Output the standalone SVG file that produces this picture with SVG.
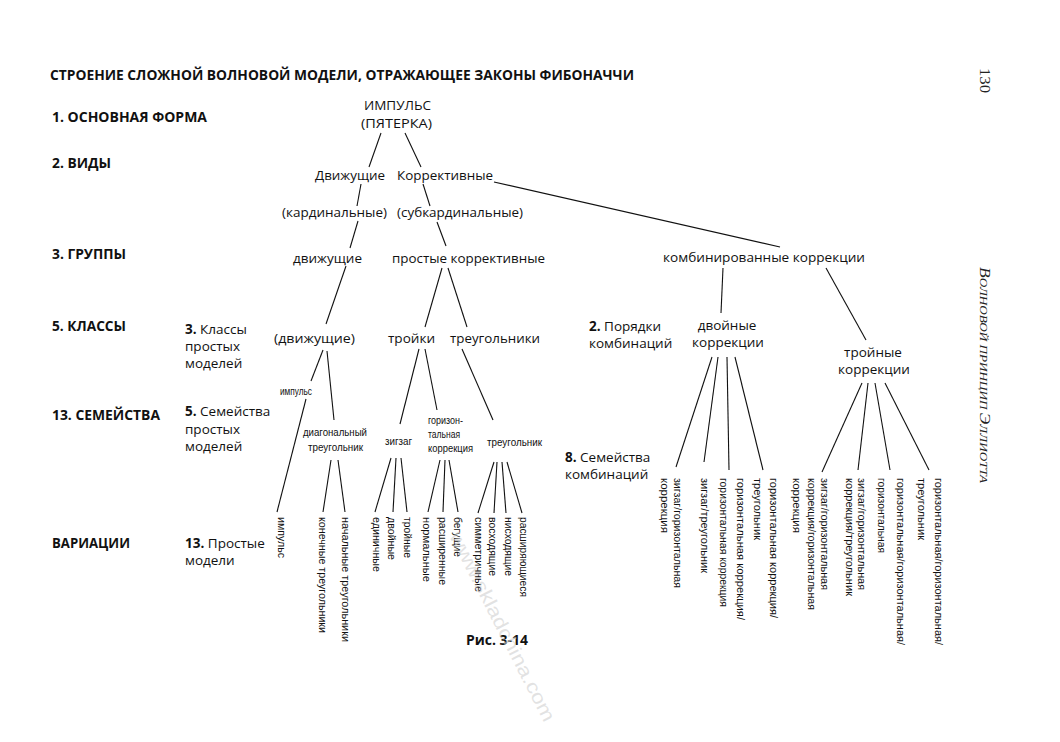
<svg xmlns="http://www.w3.org/2000/svg" width="1060" height="742" viewBox="0 0 1060 742">
<style>
.t{font-family:"Open Sans","Liberation Sans",sans-serif;font-size:13.5px;fill:#111}
.h{font-family:"Open Sans","Liberation Sans",sans-serif;font-size:13.5px;font-weight:bold;fill:#111}
.b{font-weight:bold}
.s{font-family:"Liberation Sans",sans-serif;font-size:11px;fill:#111}
.v{font-family:"Liberation Sans",sans-serif;font-size:11px;fill:#111}
.w{font-family:"Liberation Serif",serif;font-size:14px;fill:#222}
.c{text-anchor:middle}
#connectors line{stroke:#111;stroke-width:1.1;fill:none}
</style>
<rect width="1060" height="742" fill="#fff"/>

<g id="headers">
<text class="h" x="50" y="80" textLength="584" lengthAdjust="spacingAndGlyphs">СТРОЕНИЕ СЛОЖНОЙ ВОЛНОВОЙ МОДЕЛИ, ОТРАЖАЮЩЕЕ ЗАКОНЫ ФИБОНАЧЧИ</text>
<text class="h" x="52" y="122" textLength="155" lengthAdjust="spacingAndGlyphs">1. ОСНОВНАЯ ФОРМА</text>
<text class="h" x="52" y="168" textLength="59" lengthAdjust="spacingAndGlyphs">2. ВИДЫ</text>
<text class="h" x="52" y="259" textLength="74" lengthAdjust="spacingAndGlyphs">3. ГРУППЫ</text>
<text class="h" x="52" y="331" textLength="74" lengthAdjust="spacingAndGlyphs">5. КЛАССЫ</text>
<text class="h" x="52" y="420" textLength="108" lengthAdjust="spacingAndGlyphs">13. СЕМЕЙСТВА</text>
<text class="h" x="52" y="548" textLength="78" lengthAdjust="spacingAndGlyphs">ВАРИАЦИИ</text>
</g>

<g id="levels">
<text class="t" x="185" y="334"><tspan class="b">3.</tspan> Классы</text>
<text class="t" x="185" y="351">простых</text>
<text class="t" x="185" y="368">моделей</text>
<text class="t" x="185" y="416"><tspan class="b">5.</tspan> Семейства</text>
<text class="t" x="185" y="434">простых</text>
<text class="t" x="185" y="451">моделей</text>
<text class="t" x="185" y="548"><tspan class="b">13.</tspan> Простые</text>
<text class="t" x="185" y="565">модели</text>
<text class="t" x="589" y="331"><tspan class="b">2.</tspan> Порядки</text>
<text class="t" x="589" y="348">комбинаций</text>
<text class="t" x="565" y="462"><tspan class="b">8.</tspan> Семейства</text>
<text class="t" x="565" y="479">комбинаций</text>
</g>

<g id="connectors">
<line x1="381" y1="133" x2="369" y2="167"/>
<line x1="361" y1="184" x2="357" y2="206"/>
<line x1="358" y1="221" x2="350" y2="248"/>
<line x1="346" y1="266" x2="326" y2="324"/>
<line x1="405" y1="133" x2="421" y2="167"/>
<line x1="423" y1="184" x2="430" y2="206"/>
<line x1="437" y1="222" x2="446" y2="246"/>
<line x1="494" y1="182" x2="780" y2="247"/>
<line x1="442" y1="268" x2="425" y2="327"/>
<line x1="448" y1="268" x2="467" y2="327"/>
<line x1="723" y1="268" x2="721" y2="313"/>
<line x1="826" y1="268" x2="866" y2="340"/>
<line x1="323" y1="350" x2="311" y2="381"/>
<line x1="306" y1="399" x2="277" y2="512"/>
<line x1="327" y1="351" x2="334" y2="420"/>
<line x1="331" y1="460" x2="323" y2="512"/>
<line x1="338" y1="460" x2="345" y2="512"/>
<line x1="419" y1="349" x2="400" y2="424"/>
<line x1="425" y1="349" x2="437" y2="410"/>
<line x1="462" y1="349" x2="493" y2="420"/>
<line x1="391" y1="458" x2="375" y2="512"/>
<line x1="396" y1="458" x2="393" y2="512"/>
<line x1="401" y1="458" x2="407" y2="512"/>
<line x1="440" y1="460" x2="428" y2="512"/>
<line x1="445" y1="460" x2="443" y2="512"/>
<line x1="449" y1="460" x2="458" y2="512"/>
<line x1="494" y1="462" x2="478" y2="513"/>
<line x1="497" y1="462" x2="494" y2="513"/>
<line x1="502" y1="462" x2="506" y2="513"/>
<line x1="507" y1="462" x2="522" y2="513"/>
<line x1="712" y1="357" x2="676" y2="467"/>
<line x1="718" y1="357" x2="704" y2="462"/>
<line x1="727" y1="357" x2="729" y2="470"/>
<line x1="735" y1="357" x2="763" y2="470"/>
<line x1="862" y1="383" x2="822" y2="472"/>
<line x1="868" y1="383" x2="858" y2="470"/>
<line x1="875" y1="383" x2="890" y2="470"/>
<line x1="885" y1="383" x2="929" y2="470"/>
</g>

<g id="n-impulse"><text class="t" x="364" y="110" textLength="67" lengthAdjust="spacingAndGlyphs">ИМПУЛЬС</text><text class="t" x="361" y="128" textLength="71" lengthAdjust="spacingAndGlyphs">(ПЯТЕРКА)</text></g>
<g id="n-dvizh"><text class="t" x="315" y="180" textLength="70" lengthAdjust="spacingAndGlyphs">Движущие</text></g>
<g id="n-korr"><text class="t" x="397" y="180" textLength="96" lengthAdjust="spacingAndGlyphs">Коррективные</text></g>
<g id="n-kard"><text class="t" x="282" y="217" textLength="105" lengthAdjust="spacingAndGlyphs">(кардинальные)</text></g>
<g id="n-subkard"><text class="t" x="397" y="217" textLength="126" lengthAdjust="spacingAndGlyphs">(субкардинальные)</text></g>
<g id="n-dvizh-group"><text class="t" x="293" y="263" textLength="69" lengthAdjust="spacingAndGlyphs">движущие</text></g>
<g id="n-prost"><text class="t" x="392" y="263" textLength="153" lengthAdjust="spacingAndGlyphs">простые коррективные</text></g>
<g id="n-komb"><text class="t" x="663" y="262" textLength="202" lengthAdjust="spacingAndGlyphs">комбинированные коррекции</text></g>
<g id="n-dvizh-class"><text class="t" x="274" y="343" textLength="81" lengthAdjust="spacingAndGlyphs">(движущие)</text></g>
<g id="n-troiki"><text class="t" x="388" y="343" textLength="47" lengthAdjust="spacingAndGlyphs">тройки</text></g>
<g id="n-treug"><text class="t" x="450" y="343" textLength="90" lengthAdjust="spacingAndGlyphs">треугольники</text></g>
<g id="n-dvoin"><text class="t c" x="727" y="330">двойные</text><text class="t c" x="728" y="347">коррекции</text></g>
<g id="n-troin"><text class="t c" x="873" y="357">тройные</text><text class="t c" x="874" y="374">коррекции</text></g>

<g id="n-imp-small"><text class="s" x="280" y="395" textLength="32" lengthAdjust="spacingAndGlyphs">импульс</text></g>
<g id="n-diag"><text class="s" x="303" y="436" textLength="64" lengthAdjust="spacingAndGlyphs">диагональный</text><text class="s" x="308" y="451" textLength="55" lengthAdjust="spacingAndGlyphs">треугольник</text></g>
<g id="n-zigzag"><text class="s" x="385" y="445" textLength="27" lengthAdjust="spacingAndGlyphs">зигзаг</text></g>
<g id="n-horiz"><text class="s" x="428" y="424" textLength="35" lengthAdjust="spacingAndGlyphs">горизон-</text><text class="s" x="428" y="438" textLength="32" lengthAdjust="spacingAndGlyphs">тальная</text><text class="s" x="428" y="452" textLength="45" lengthAdjust="spacingAndGlyphs">коррекция</text></g>
<g id="n-treug-fam"><text class="s" x="487" y="446" textLength="55" lengthAdjust="spacingAndGlyphs">треугольник</text></g>

<g id="leaves-simple">
<text class="v" transform="translate(278,517) rotate(90)" textLength="41" lengthAdjust="spacingAndGlyphs">импульс</text>
<text class="v" transform="translate(319,517) rotate(90)" textLength="116" lengthAdjust="spacingAndGlyphs">конечные треугольники</text>
<text class="v" transform="translate(342,517) rotate(90)" textLength="125" lengthAdjust="spacingAndGlyphs">начальные треугольники</text>
<text class="v" transform="translate(373,517) rotate(90)" textLength="55" lengthAdjust="spacingAndGlyphs">единичные</text>
<text class="v" transform="translate(388,517) rotate(90)" textLength="43" lengthAdjust="spacingAndGlyphs">двойные</text>
<text class="v" transform="translate(404,517) rotate(90)" textLength="41" lengthAdjust="spacingAndGlyphs">тройные</text>
<text class="v" transform="translate(423,517) rotate(90)" textLength="65" lengthAdjust="spacingAndGlyphs">нормальные</text>
<text class="v" transform="translate(439,517) rotate(90)" textLength="68" lengthAdjust="spacingAndGlyphs">расширенные</text>
<text class="v" transform="translate(454,517) rotate(90)" textLength="40" lengthAdjust="spacingAndGlyphs">бегущие</text>
<text class="v" transform="translate(475,517) rotate(90)" textLength="75" lengthAdjust="spacingAndGlyphs">симметричные</text>
<text class="v" transform="translate(489,517) rotate(90)" textLength="59" lengthAdjust="spacingAndGlyphs">восходящие</text>
<text class="v" transform="translate(505,517) rotate(90)" textLength="59" lengthAdjust="spacingAndGlyphs">нисходящие</text>
<text class="v" transform="translate(520,517) rotate(90)" textLength="80" lengthAdjust="spacingAndGlyphs">расширяющиеся</text>
</g>

<g id="leaves-double">
<text class="v" transform="translate(674,478) rotate(90)" textLength="110" lengthAdjust="spacingAndGlyphs">зигзаг/горизонтальная</text>
<text class="v" transform="translate(661,478) rotate(90)" textLength="55" lengthAdjust="spacingAndGlyphs">коррекция</text>
<text class="v" transform="translate(701,478) rotate(90)" textLength="95" lengthAdjust="spacingAndGlyphs">зигзаг/треугольник</text>
<text class="v" transform="translate(737,478) rotate(90)" textLength="142" lengthAdjust="spacingAndGlyphs">горизонтальная коррекция/</text>
<text class="v" transform="translate(720,478) rotate(90)" textLength="129" lengthAdjust="spacingAndGlyphs">горизонтальная коррекция</text>
<text class="v" transform="translate(770,478) rotate(90)" textLength="140" lengthAdjust="spacingAndGlyphs">горизонтальная коррекция/</text>
<text class="v" transform="translate(754,478) rotate(90)" textLength="62" lengthAdjust="spacingAndGlyphs">треугольник</text>
</g>

<g id="leaves-triple">
<text class="v" transform="translate(821,478) rotate(90)" textLength="112" lengthAdjust="spacingAndGlyphs">зигзаг/горизонтальная</text>
<text class="v" transform="translate(808,478) rotate(90)" textLength="132" lengthAdjust="spacingAndGlyphs">коррекция/горизонтальная</text>
<text class="v" transform="translate(793,478) rotate(90)" textLength="55" lengthAdjust="spacingAndGlyphs">коррекция</text>
<text class="v" transform="translate(858,478) rotate(90)" textLength="112" lengthAdjust="spacingAndGlyphs">зигзаг/горизонтальная</text>
<text class="v" transform="translate(846,478) rotate(90)" textLength="118" lengthAdjust="spacingAndGlyphs">коррекция/треугольник</text>
<text class="v" transform="translate(897,478) rotate(90)" textLength="167" lengthAdjust="spacingAndGlyphs">горизонтальная/горизонтальная/</text>
<text class="v" transform="translate(878,478) rotate(90)" textLength="75" lengthAdjust="spacingAndGlyphs">горизонтальная</text>
<text class="v" transform="translate(935,478) rotate(90)" textLength="167" lengthAdjust="spacingAndGlyphs">горизонтальная/горизонтальная/</text>
<text class="v" transform="translate(918,478) rotate(90)" textLength="62" lengthAdjust="spacingAndGlyphs">треугольник</text>
</g>

<g id="caption"><text class="h" x="466" y="645" textLength="62" lengthAdjust="spacingAndGlyphs">Рис. 3-14</text></g>

<g id="page">
<text class="w" transform="translate(980,68) rotate(90)" textLength="25" lengthAdjust="spacingAndGlyphs">130</text>
<text class="w" transform="translate(980,267) rotate(90)" font-style="italic" textLength="216" lengthAdjust="spacingAndGlyphs">В<tspan font-size="10.5">ОЛНОВОЙ ПРИНЦИП </tspan>Э<tspan font-size="10.5">ЛЛИОТТА</tspan></text>
</g>

<g id="watermark"><text transform="translate(449,536) rotate(63)" font-family="Liberation Sans,sans-serif" font-size="19" fill="#cfcfcf" fill-opacity="0.6" textLength="210" lengthAdjust="spacingAndGlyphs">www.skladchina.com</text></g>
</svg>
